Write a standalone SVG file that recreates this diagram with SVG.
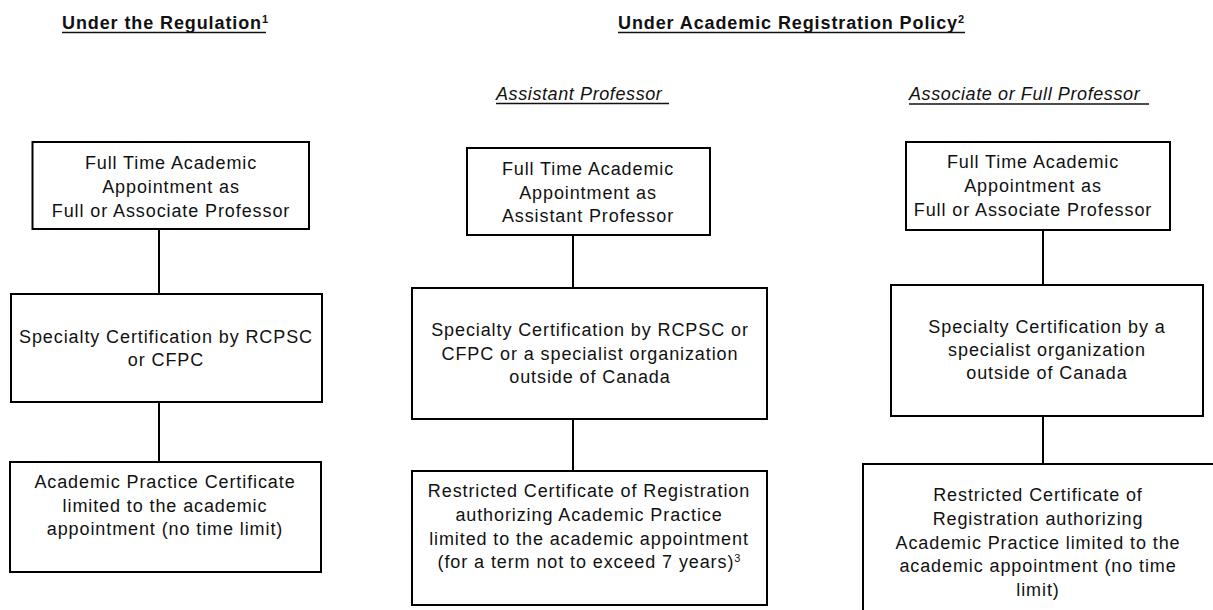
<svg xmlns="http://www.w3.org/2000/svg" width="1213" height="610" viewBox="0 0 1213 610">
<style>
.box{fill:#fff;stroke:#000;stroke-width:2}
.t{font-family:"Liberation Sans",Arial,sans-serif;font-size:18px;letter-spacing:0.9px;fill:#111;text-anchor:middle}
.h{font-family:"Liberation Sans",Arial,sans-serif;font-size:18px;font-weight:bold;letter-spacing:0.9px;fill:#111}
.s{font-family:"Liberation Sans",Arial,sans-serif;font-size:18px;font-style:italic;letter-spacing:0.6px;fill:#111}
.sup{font-size:11px;letter-spacing:0}
.ul{stroke:#111;stroke-width:1.5}
.c{stroke:#000;stroke-width:2;fill:none}
</style>
<rect width="1213" height="610" fill="#fff"/>
<g id="headings">
<text class="h" x="62" y="29">Under the Regulation<tspan class="sup" dy="-6">1</tspan></text>
<line class="ul" x1="62" y1="32.5" x2="266" y2="32.5"/>
<text class="h" x="618" y="29">Under Academic Registration Policy<tspan class="sup" dy="-6">2</tspan></text>
<line class="ul" x1="618" y1="32.5" x2="965" y2="32.5"/>
<text class="s" x="496" y="100">Assistant Professor</text>
<line class="ul" x1="496" y1="103.5" x2="669" y2="103.5"/>
<text class="s" x="909" y="100">Associate or Full Professor</text>
<line class="ul" x1="909" y1="104" x2="1149" y2="104"/>
</g>
<g id="connectors">
<line class="c" x1="159" y1="229" x2="159" y2="294"/>
<line class="c" x1="159" y1="402" x2="159" y2="462"/>
<line class="c" x1="573" y1="235" x2="573" y2="288"/>
<line class="c" x1="573" y1="419" x2="573" y2="471"/>
<line class="c" x1="1043" y1="230" x2="1043" y2="285"/>
<line class="c" x1="1043" y1="416" x2="1043" y2="464"/>
</g>
<g id="reg-appointment">
<rect class="box" x="32.5" y="142" width="276.5" height="87"/>
<text class="t" x="171" y="169">Full Time Academic</text>
<text class="t" x="171" y="193">Appointment as</text>
<text class="t" x="171" y="217">Full or Associate Professor</text>
</g>
<g id="reg-certification">
<rect class="box" x="11" y="294" width="311" height="108"/>
<text class="t" x="166" y="343">Specialty Certification by RCPSC</text>
<text class="t" x="166" y="366">or CFPC</text>
</g>
<g id="reg-certificate">
<rect class="box" x="10" y="462" width="311" height="110"/>
<text class="t" x="165" y="488">Academic Practice Certificate</text>
<text class="t" x="165" y="512">limited to the academic</text>
<text class="t" x="165" y="535">appointment (no time limit)</text>
</g>
<g id="asst-appointment">
<rect class="box" x="467" y="148" width="243" height="87"/>
<text class="t" x="588" y="175">Full Time Academic</text>
<text class="t" x="588" y="199">Appointment as</text>
<text class="t" x="588" y="222">Assistant Professor</text>
</g>
<g id="asst-certification">
<rect class="box" x="412" y="288" width="355" height="131"/>
<text class="t" x="590" y="336">Specialty Certification by RCPSC or</text>
<text class="t" x="590" y="360">CFPC or a specialist organization</text>
<text class="t" x="590" y="383">outside of Canada</text>
</g>
<g id="asst-certificate">
<rect class="box" x="412" y="471" width="355" height="134"/>
<text class="t" x="589" y="497">Restricted Certificate of Registration</text>
<text class="t" x="589" y="521">authorizing Academic Practice</text>
<text class="t" x="589" y="545">limited to the academic appointment</text>
<text class="t" x="589" y="568">(for a term not to exceed 7 years)<tspan class="sup" dy="-6">3</tspan></text>
</g>
<g id="full-appointment">
<rect class="box" x="906" y="142" width="264" height="88"/>
<text class="t" x="1033" y="168">Full Time Academic</text>
<text class="t" x="1033" y="192">Appointment as</text>
<text class="t" x="1033" y="216">Full or Associate Professor</text>
</g>
<g id="full-certification">
<rect class="box" x="891" y="285" width="312" height="131"/>
<text class="t" x="1047" y="333">Specialty Certification by a</text>
<text class="t" x="1047" y="356">specialist organization</text>
<text class="t" x="1047" y="379">outside of Canada</text>
</g>
<g id="full-certificate">
<rect class="box" x="863" y="464" width="380" height="180"/>
<text class="t" x="1038" y="501">Restricted Certificate of</text>
<text class="t" x="1038" y="525">Registration authorizing</text>
<text class="t" x="1038" y="548.5">Academic Practice limited to the</text>
<text class="t" x="1038" y="572">academic appointment (no time</text>
<text class="t" x="1038" y="596">limit)</text>
</g>
</svg>
